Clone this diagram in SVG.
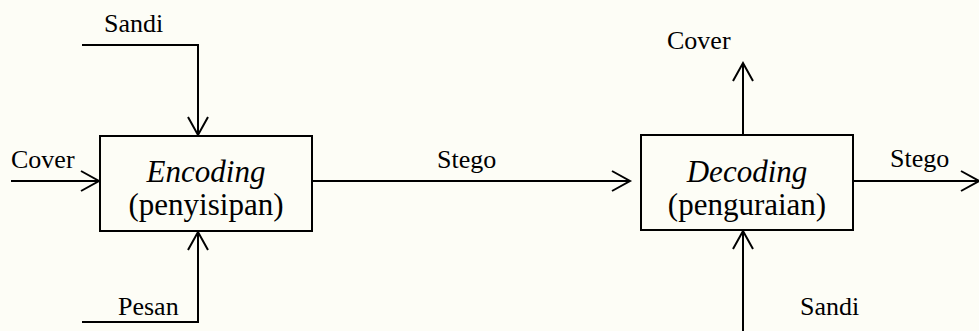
<svg xmlns="http://www.w3.org/2000/svg" width="979" height="331" viewBox="0 0 979 331">
  <defs>
    <style>
      .bg { fill: #fdfdf6; }
      .box { fill: none; stroke: #000; stroke-width: 2; }
      .wire { fill: none; stroke: #000; stroke-width: 2; }
      .lbl { font-family: "Liberation Serif", "Times New Roman", serif; font-size: 26px; fill: #000; }
      .title { font-family: "Liberation Serif", "Times New Roman", serif; font-size: 31px; fill: #000; text-anchor: middle; }
      .it { font-style: italic; }
    </style>
    <marker id="chev" markerUnits="userSpaceOnUse" viewBox="-20 -12 22 24" refX="0" refY="0" markerWidth="22" markerHeight="24" orient="auto" overflow="visible">
      <path d="M -18 -10 L 0 0 L -18 10" fill="none" stroke="#000" stroke-width="2"/>
    </marker>
  </defs>

  <rect class="bg" x="0" y="0" width="979" height="331"/>

  <!-- process blocks -->
  <g id="encoding">
    <rect class="box" x="100" y="136" width="212" height="95"/>
    <text class="title it" x="206" y="182">Encoding</text>
    <text class="title" x="206" y="215">(penyisipan)</text>
  </g>
  <g id="decoding">
    <rect class="box" x="641" y="135" width="212" height="95"/>
    <text class="title it" x="747" y="182">Decoding</text>
    <text class="title" x="747" y="215">(penguraian)</text>
  </g>

  <!-- signal lines -->
  <g id="connectors">
    <path class="wire" d="M 82 45 H 198 V 135" marker-end="url(#chev)"/>
    <path class="wire" d="M 11 181 H 99" marker-end="url(#chev)"/>
    <path class="wire" d="M 82 322 H 198 V 232" marker-end="url(#chev)"/>
    <path class="wire" d="M 313 181 H 630" marker-end="url(#chev)"/>
    <path class="wire" d="M 743 135 V 63" marker-end="url(#chev)"/>
    <path class="wire" d="M 853 181 H 979" marker-end="url(#chev)"/>
    <path class="wire" d="M 743 331 V 231" marker-end="url(#chev)"/>
  </g>

  <!-- signal labels -->
  <g id="labels">
    <text class="lbl" x="104" y="32">Sandi</text>
    <text class="lbl" x="11" y="168">Cover</text>
    <text class="lbl" x="118" y="315">Pesan</text>
    <text class="lbl" x="437" y="168">Stego</text>
    <text class="lbl" x="667" y="49">Cover</text>
    <text class="lbl" x="890" y="167">Stego</text>
    <text class="lbl" x="800" y="315">Sandi</text>
  </g>
</svg>
